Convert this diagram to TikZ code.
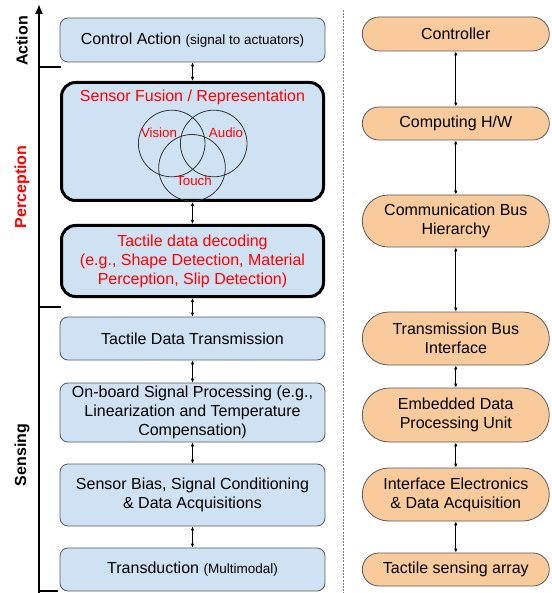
\documentclass[tikz,border=0pt]{standalone}
\usepackage{fontspec}
\setmainfont{Liberation Sans}
\usetikzlibrary{arrows.meta}
\definecolor{boxblue}{HTML}{CFE2F3}
\definecolor{boxorange}{HTML}{F9CB9C}
\definecolor{edgegray}{HTML}{595959}
\definecolor{redtext}{HTML}{FF0000}
\begin{document}
\begin{tikzpicture}[x=1pt,y=-1pt,
  mainfont/.style={font=\fontsize{16}{19}\selectfont},
  lbox/.style={draw=edgegray, line width=0.8pt, fill=boxblue, rounded corners=8pt,
    minimum width=265pt, align=center, mainfont, inner sep=0pt},
  thickbox/.style={lbox, draw=black, line width=3pt, rounded corners=14pt,
    minimum width=262pt, text=redtext},
  rbox/.style={draw=edgegray, line width=0.8pt, fill=boxorange,
    minimum width=187pt, align=center, mainfont, inner sep=0pt},
  link/.style={{Latex[length=4pt,width=3.5pt]}-{Latex[length=4pt,width=3.5pt]}, line width=0.8pt},
  venn/.style={draw=black!80, line width=0.8pt},
  vennlabel/.style={text=redtext, font=\fontsize{13.3}{15}\selectfont},
  axislabel/.style={rotate=90, font=\fontsize{16}{19}\selectfont\bfseries},
  tick/.style={line width=1.2pt}]
\useasboundingbox (0,0) rectangle (551,593);

% axis
\coordinate (axb) at (39,593);
\coordinate (axt) at (39,4);
\draw[line width=1.6pt, -{Latex[length=10pt,width=8pt]}] (axb) -- (axt);
\coordinate (t1a) at (39,67);  \coordinate (t1b) at (61,67);
\coordinate (t2a) at (39,307); \coordinate (t2b) at (61,307);
\coordinate (t3a) at (39,591); \coordinate (t3b) at (58,591);
\draw[tick] (t1a) -- (t1b);
\draw[tick] (t2a) -- (t2b);
\draw[tick] (t3a) -- (t3b);
\node[axislabel] (lact) at (22,41) {Action};
\node[axislabel, text=redtext] (lper) at (22,187) {Perception};
\node[axislabel] (lsen) at (22,455) {Sensing};

% separator
\coordinate (sept) at (343,10);
\coordinate (sepb) at (343,593);
\draw[gray, line width=0.7pt, dash pattern=on 2pt off 1.2pt] (sept) -- (sepb);

% left column
\node[lbox, minimum height=44pt] (ca) at (192.5,40)
  {Control Action {\fontsize{13.5}{16}\selectfont(signal to actuators)}};
\node[thickbox, minimum height=118pt] (sf) at (192.5,141.5) {};
\node[text=redtext, mainfont] (sft) at (192.5,97) {Sensor Fusion / Representation};
\draw[venn] (171.7,143.5) circle (33.3pt);
\draw[venn] (213.7,143.5) circle (33.3pt);
\draw[venn] (192,167.8) circle (33.3pt);
\node[vennlabel] (vv) at (159,133) {Vision};
\node[vennlabel] (va) at (226,133) {Audio};
\node[vennlabel] (vt) at (194,181) {Touch};
\node[thickbox, minimum height=71pt] (td) at (192.5,261)
  {Tactile data decoding\\(e.g., Shape Detection, Material\\Perception, Slip Detection)};
\node[lbox, minimum height=43pt] (tt) at (192.5,338.5) {Tactile Data Transmission};
\node[lbox, minimum height=59pt] (ob) at (192.5,412.5)
  {On-board Signal Processing (e.g.,\\Linearization and Temperature\\Compensation)};
\node[lbox, minimum height=62pt] (sb) at (192.5,495)
  {Sensor Bias, Signal Conditioning\\\& Data Acquisitions};
\node[lbox, minimum height=43pt] (tr) at (192.5,569.5)
  {Transduction {\fontsize{13.5}{16}\selectfont(Multimodal)}};

\draw[link] (ca.south) -- (sf.north);
\draw[link] (sf.south) -- (td.north);
\draw[link] (td.south) -- (tt.north);
\draw[link] (tt.south) -- (ob.north);
\draw[link] (ob.south) -- (sb.north);
\draw[link] (sb.south) -- (tr.north);

% right column
\node[rbox, minimum height=34pt, rounded corners=17pt] (r1) at (455.8,34) {Controller};
\node[rbox, minimum height=33pt, rounded corners=16.5pt] (r2) at (455.8,123.5) {Computing H/W};
\node[rbox, minimum height=52pt, rounded corners=26pt] (r3) at (455.8,221) {Communication Bus\\Hierarchy};
\node[rbox, minimum height=53pt, rounded corners=26.5pt] (r4) at (455.8,338.5) {Transmission Bus\\Interface};
\node[rbox, minimum height=54pt, rounded corners=27pt] (r5) at (455.8,415) {Embedded Data\\Processing Unit};
\node[rbox, minimum height=53pt, rounded corners=26.5pt] (r6) at (455.8,494.5) {Interface Electronics\\\& Data Acquisition};
\node[rbox, minimum height=33pt, rounded corners=16.5pt] (r7) at (455.8,569.5) {Tactile sensing array};

\draw[link] (r1.south) -- (r2.north);
\draw[link] (r2.south) -- (r3.north);
\draw[link] (r3.south) -- (r4.north);
\draw[link] (r4.south) -- (r5.north);
\draw[link] (r5.south) -- (r6.north);
\draw[link] (r6.south) -- (r7.north);
\end{tikzpicture}
\end{document}
